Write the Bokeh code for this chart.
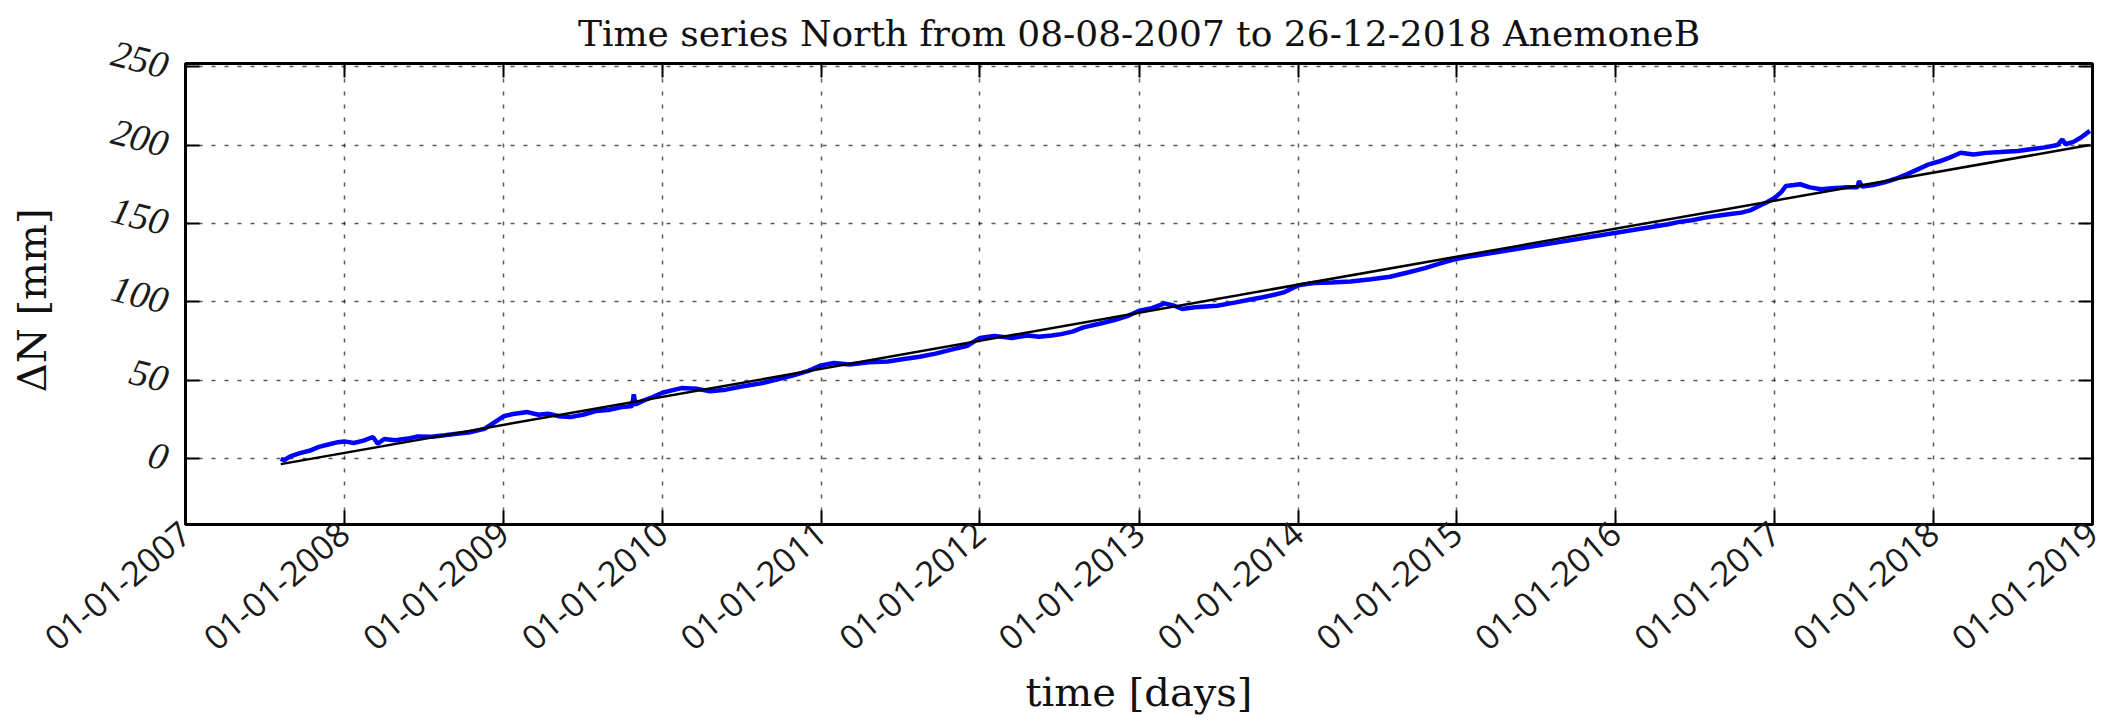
import numpy as np
import pandas as pd
from bokeh.plotting import figure
from bokeh.models import (FixedTicker, DatetimeTickFormatter, LinearAxis,
                          DatetimeAxis, Range1d, ColumnDataSource)
from bokeh.embed import file_html
from bokeh.resources import INLINE

# ---------------- data ----------------
title_text = "Time series North from 08-08-2007 to 26-12-2018 AnemoneB"
x_label = "time [days]"
y_label = "\u0394N  [mm]"

year_ticks = ["2007-01-01", "2008-01-01", "2009-01-01", "2010-01-01",
              "2011-01-01", "2012-01-01", "2013-01-01", "2014-01-01",
              "2015-01-01", "2016-01-01", "2017-01-01", "2018-01-01",
              "2019-01-01"]
y_ticks = [0, 50, 100, 150, 200, 250]

t_obs = [2007.60, 2007.62, 2007.66, 2007.72, 2007.78, 2007.84, 2007.90, 2007.96,
         2008.00, 2008.06, 2008.12, 2008.18, 2008.21, 2008.25, 2008.32, 2008.40,
         2008.46, 2008.55, 2008.63, 2008.72, 2008.78, 2008.84, 2008.88, 2008.94,
         2009.00, 2009.06, 2009.15, 2009.22, 2009.28, 2009.35, 2009.42, 2009.50,
         2009.58, 2009.66, 2009.75, 2009.81, 2009.82, 2009.83, 2009.88, 2009.94,
         2010.00, 2010.06, 2010.12, 2010.22, 2010.30, 2010.40, 2010.50, 2010.62,
         2010.72, 2010.82, 2010.92, 2011.00, 2011.08, 2011.18, 2011.30, 2011.42,
         2011.52, 2011.62, 2011.72, 2011.82, 2011.92, 2012.00, 2012.09, 2012.20,
         2012.30, 2012.37, 2012.45, 2012.51, 2012.58, 2012.65, 2012.75, 2012.85,
         2012.93, 2013.00, 2013.08, 2013.16, 2013.22, 2013.27, 2013.35, 2013.49,
         2013.60, 2013.70, 2013.77, 2013.85, 2013.91, 2014.00, 2014.10, 2014.21,
         2014.33, 2014.46, 2014.58, 2014.69, 2014.80, 2014.88, 2014.98, 2015.06,
         2015.12, 2016.33, 2016.40, 2016.48, 2016.56, 2016.65, 2016.72, 2016.79,
         2016.85, 2016.90, 2016.95, 2017.00, 2017.04, 2017.07, 2017.12, 2017.16,
         2017.22, 2017.29, 2017.36, 2017.44, 2017.52, 2017.53, 2017.55, 2017.62,
         2017.69, 2017.76, 2017.83, 2017.90, 2017.97, 2018.05, 2018.10, 2018.17,
         2018.25, 2018.33, 2018.42, 2018.53, 2018.62, 2018.70, 2018.78, 2018.81,
         2018.83, 2018.88, 2018.93, 2018.983]
n_obs = [0.0, -1.0, 1.5, 3.5, 5.0, 7.5, 9.0, 10.5,
         11.0, 10.0, 11.5, 13.8, 9.5, 12.5, 11.7, 12.8,
         14.2, 14.0, 14.9, 16.0, 16.6, 18.0, 19.0, 23.0,
         27.0, 28.5, 29.7, 28.0, 28.7, 27.0, 26.5, 28.0,
         30.4, 31.0, 33.0, 33.5, 41.0, 34.5, 37.0, 39.3,
         42.0, 43.5, 45.0, 44.5, 43.0, 44.0, 46.0, 48.0,
         50.5, 53.0, 56.0, 59.5, 61.0, 60.0, 61.5, 62.0,
         63.5, 65.0, 67.0, 69.5, 72.0, 77.0, 78.3, 77.0,
         78.5, 77.7, 78.5, 79.4, 81.0, 83.7, 86.0, 88.5,
         91.1, 94.3, 96.0, 99.0, 97.5, 95.5, 96.5, 97.5,
         99.5, 101.5, 102.8, 104.5, 106.0, 110.5, 112.0, 112.3,
         113.0, 114.4, 116.0, 118.7, 121.5, 124.0, 127.0, 128.5,
         129.5, 149.5, 151.0, 152.0, 153.7, 155.0, 156.0, 156.9,
         158.5, 161.1, 163.5, 166.4, 170.0, 173.9, 174.5, 175.0,
         173.0, 171.8, 172.5, 173.0, 173.0, 177.0, 173.5, 174.5,
         176.2, 178.5, 181.3, 184.5, 187.7, 190.0, 192.0, 195.1,
         194.0, 195.0, 195.5, 196.2, 197.5, 198.5, 200.0, 203.6,
         200.5, 202.0, 205.0, 209.0]

# linear fit (decimal year, mm)
t_fit = [2007.60, 2018.983]
n_fit = [-3.5, 200.0]


def to_datetime(years):
    out = []
    for y in years:
        yi = int(np.floor(y))
        a = pd.Timestamp(f"{yi}-01-01")
        b = pd.Timestamp(f"{yi + 1}-01-01")
        out.append(a + (b - a) * (y - yi))
    return out


tick_ms = [pd.Timestamp(s).value // 10**6 for s in year_ticks]

obs = ColumnDataSource(dict(t=to_datetime(t_obs), n=n_obs))
fit = ColumnDataSource(dict(t=to_datetime(t_fit), n=n_fit))

# ---------------- figure ----------------
p = figure(width=2106, height=723, x_axis_type="datetime",
           output_backend="svg", toolbar_location=None,
           x_range=Range1d(pd.Timestamp(year_ticks[0]), pd.Timestamp(year_ticks[-1])),
           y_range=Range1d(-42, 252),
           min_border_left=185, min_border_right=14,
           min_border_top=62, min_border_bottom=199)

p.background_fill_color = "white"
p.border_fill_color = "white"
p.outline_line_color = "black"
p.outline_line_width = 3

p.title.text = title_text
p.title.align = "center"
p.title.text_font = "DejaVu Serif"
p.title.text_font_style = "normal"
p.title.text_font_size = "36px"
p.title.text_color = "#111111"
p.title.standoff = 20

xticker = FixedTicker(ticks=tick_ms)
yticker = FixedTicker(ticks=y_ticks)
fmt = DatetimeTickFormatter(years="%d-%m-%Y", months="%d-%m-%Y", days="%d-%m-%Y",
                            hours="%d-%m-%Y", minutes="%d-%m-%Y")

common = dict(axis_line_color=None, major_tick_in=14, major_tick_out=0,
              major_tick_line_width=2, minor_tick_line_color=None,
              minor_tick_in=0, minor_tick_out=0)

xa = p.xaxis[0]
xa.ticker = xticker
xa.formatter = fmt
for k, v in common.items():
    setattr(xa, k, v)
xa.major_label_orientation = 0.70
xa.major_label_standoff = 4
xa.major_label_text_font = "Open Sans"
xa.major_label_text_font_size = "34px"
xa.major_label_text_color = "#1a1a1a"
xa.axis_label = x_label
xa.axis_label_text_font = "DejaVu Serif"
xa.axis_label_text_font_style = "normal"
xa.axis_label_text_font_size = "40px"
xa.axis_label_text_color = "#111111"
xa.axis_label_standoff = 4

ya = p.yaxis[0]
ya.ticker = yticker
for k, v in common.items():
    setattr(ya, k, v)
ya.major_label_orientation = -0.25
ya.major_label_standoff = 18
ya.major_label_text_font = "Liberation Serif"
ya.major_label_text_font_style = "italic"
ya.major_label_text_font_size = "38px"
ya.major_label_text_color = "#1a1a1a"
ya.axis_label = y_label
ya.axis_label_text_font = "DejaVu Serif"
ya.axis_label_text_font_style = "normal"
ya.axis_label_text_font_size = "40px"
ya.axis_label_text_color = "#111111"
ya.axis_label_standoff = 48

top = DatetimeAxis(ticker=xticker, formatter=fmt, major_label_standoff=0,
                   major_label_text_font_size="1px", major_label_text_color=None,
                   **common)
p.add_layout(top, "above")
right = LinearAxis(ticker=yticker, major_label_standoff=0,
                   major_label_text_font_size="1px", major_label_text_color=None,
                   **common)
p.add_layout(right, "right")

for g, tk in ((p.xgrid[0], xticker), (p.ygrid[0], yticker)):
    g.ticker = tk
    g.grid_line_color = "black"
    g.grid_line_alpha = 0.65
    g.grid_line_width = 1.5
    g.grid_line_dash = "4 9"

p.line("t", "n", source=obs, line_color="#0000ff", line_width=4.5)
p.line("t", "n", source=fit, line_color="black", line_width=2.5)

open("out.html", "w").write(file_html(p, INLINE))
